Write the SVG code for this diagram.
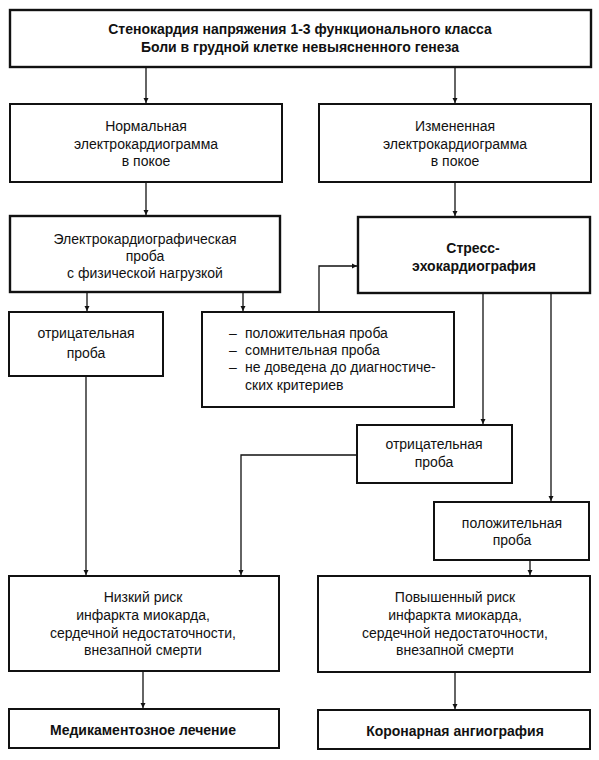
<svg xmlns="http://www.w3.org/2000/svg" width="599" height="760" viewBox="0 0 599 760">
<defs>
<marker id="ah" markerWidth="6" markerHeight="6" refX="5" refY="3" orient="auto" markerUnits="userSpaceOnUse">
<path d="M0,0.5 L5,3 L0,5.5 Z" fill="#111"/>
</marker>
<style>
.box{fill:#fff;stroke:#111;stroke-width:2}
.bb{fill:#fff;stroke:#111;stroke-width:2.4}
.t{font-family:"Liberation Sans",Arial,sans-serif;font-size:14px;fill:#111;text-anchor:middle}
.b{font-weight:bold}
.l{text-anchor:start}
.c{fill:none;stroke:#111;stroke-width:1.3;marker-end:url(#ah)}
.cn{fill:none;stroke:#111;stroke-width:1.3}
</style>
</defs>
<rect width="599" height="760" fill="#fff"/>
<g id="connectors">
<path class="c" d="M146,67 V103"/>
<path class="c" d="M455,67 V103"/>
<path class="c" d="M146,182 V215"/>
<path class="c" d="M455,182 V216"/>
<path class="c" d="M87,292 V311"/>
<path class="c" d="M243,292 V311"/>
<path class="c" d="M319,312 V266 H357"/>
<path class="c" d="M483,293 V424"/>
<path class="c" d="M551,293 V501"/>
<path class="c" d="M357,455 H241 V575"/>
<path class="c" d="M86,376 V575"/>
<path class="c" d="M530,560 V575"/>
<path class="c" d="M143,671 V708"/>
<path class="c" d="M455,672 V709"/>
</g>
<g id="n1">
<rect class="bb" x="10" y="10" width="581" height="57"/>
<text class="t b" x="300" y="34">Стенокардия напряжения 1-3 функционального класса</text>
<text class="t b" x="300" y="52">Боли в грудной клетке невыясненного генеза</text>
</g>
<g id="n2">
<rect class="box" x="10" y="104" width="272" height="78"/>
<text class="t" x="146" y="131">Нормальная</text>
<text class="t" x="146" y="149">электрокардиограмма</text>
<text class="t" x="146" y="166">в покое</text>
</g>
<g id="n3">
<rect class="box" x="319" y="104" width="272" height="78"/>
<text class="t" x="455" y="131">Измененная</text>
<text class="t" x="455" y="149">электрокардиограмма</text>
<text class="t" x="455" y="166">в покое</text>
</g>
<g id="n4">
<rect class="bb" x="10" y="216" width="270" height="76"/>
<text class="t" x="145" y="244">Электрокардиографическая</text>
<text class="t" x="145" y="261">проба</text>
<text class="t" x="145" y="278">с физической нагрузкой</text>
</g>
<g id="n5">
<rect class="bb" x="358" y="217" width="232" height="76"/>
<text class="t b" x="473" y="253">Стресс-</text>
<text class="t b" x="474" y="271">эхокардиография</text>
</g>
<g id="n6">
<rect class="box" x="9" y="312" width="154" height="64"/>
<text class="t" x="86" y="338">отрицательная</text>
<text class="t" x="86" y="358">проба</text>
</g>
<g id="n7">
<rect class="box" x="202" y="312" width="252" height="95"/>
<text class="t l" x="229" y="338">–</text>
<text class="t l" x="245" y="338">положительная проба</text>
<text class="t l" x="229" y="355">–</text>
<text class="t l" x="245" y="355">сомнительная проба</text>
<text class="t l" x="229" y="372">–</text>
<text class="t l" x="245" y="372">не доведена до диагностиче-</text>
<text class="t l" x="245" y="390">ских критериев</text>
</g>
<g id="n8">
<rect class="box" x="357" y="425" width="155" height="58"/>
<text class="t" x="434" y="449">отрицательная</text>
<text class="t" x="434" y="467">проба</text>
</g>
<g id="n9">
<rect class="box" x="434" y="502" width="155" height="58"/>
<text class="t" x="512" y="528">положительная</text>
<text class="t" x="512" y="545">проба</text>
</g>
<g id="n10">
<rect class="box" x="9" y="576" width="270" height="95"/>
<text class="t" x="143" y="602">Низкий риск</text>
<text class="t" x="143" y="620">инфаркта миокарда,</text>
<text class="t" x="143" y="638">сердечной недостаточности,</text>
<text class="t" x="143" y="655">внезапной смерти</text>
</g>
<g id="n11">
<rect class="box" x="318" y="576" width="272" height="96"/>
<text class="t" x="455" y="602">Повышенный риск</text>
<text class="t" x="455" y="620">инфаркта миокарда,</text>
<text class="t" x="455" y="638">сердечной недостаточности,</text>
<text class="t" x="455" y="655">внезапной смерти</text>
</g>
<g id="n12">
<rect class="box" x="9" y="709" width="270" height="39"/>
<text class="t b" x="143" y="735">Медикаментозное лечение</text>
</g>
<g id="n13">
<rect class="box" x="318" y="710" width="272" height="39"/>
<text class="t b" x="455" y="736">Коронарная ангиография</text>
</g>
</svg>
